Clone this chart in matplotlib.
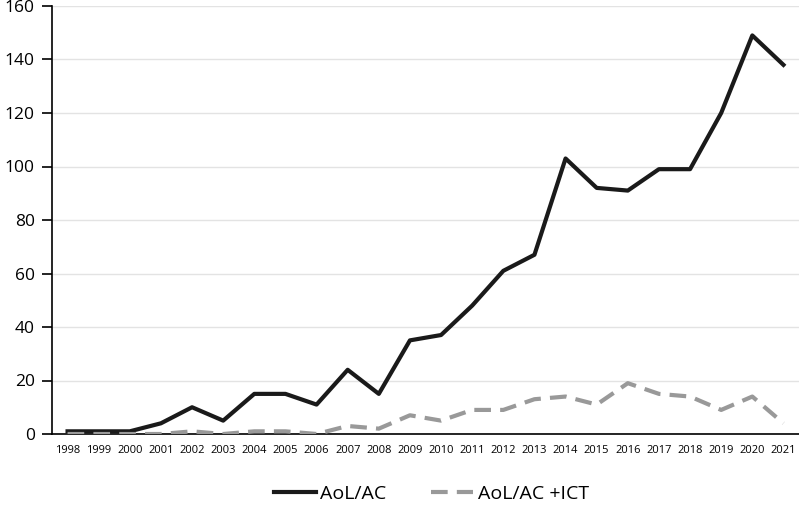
import matplotlib.pyplot as plt

years = list(range(1998, 2022))
aol_ac = [1, 1, 1, 4, 10, 5, 15, 15, 11, 24, 15, 35, 37, 48, 61, 67,
          103, 92, 91, 99, 99, 120, 149, 138]
aol_ac_ict = [0, 0, 0, 0, 1, 0, 1, 1, 0, 3, 2, 7, 5, 9, 9, 13,
              14, 11, 19, 15, 14, 9, 14, 4]
y_ticks = [0, 20, 40, 60, 80, 100, 120, 140, 160]

plt.rcParams['font.family'] = ['Open Sans', 'DejaVu Sans']

fig = plt.figure(figsize=(7.99, 5.05), dpi=100)
ax = fig.add_axes([52 / 799, 1 - 434 / 505, 747 / 799, 428 / 505])

x = list(range(len(years)))
ax.plot(x, aol_ac, color='#1a1a1a', lw=3.0, label='AoL/AC', zorder=3)
ax.plot(x, aol_ac_ict, color='#999999', lw=3.0, ls=(0, (4, 2.2)),
        label='AoL/AC +ICT', zorder=3)

ax.set_xlim(-0.5, len(years) - 0.5)
ax.set_ylim(0, 160)
ax.set_yticks(y_ticks)
ax.set_xticks(x)
ax.set_xticklabels([str(y) for y in years], fontsize=8)
ax.tick_params(axis='y', labelsize=12.5, length=7.5, width=1.2, direction='out', pad=5)
ax.tick_params(axis='x', length=0, pad=8)
ax.yaxis.grid(True, color='#e3e3e3', lw=1)
ax.set_axisbelow(True)
for s in ['top', 'right']:
    ax.spines[s].set_visible(False)
ax.spines['left'].set_linewidth(1.2)
ax.spines['bottom'].set_linewidth(1.2)

fig.legend(loc='center', bbox_to_anchor=(0.54, 1 - 494 / 505), ncol=2, frameon=False,
           fontsize=14, handlelength=2.15, handletextpad=0.25, columnspacing=2.3,
           borderpad=0)

fig.savefig('out.png', dpi=100)
